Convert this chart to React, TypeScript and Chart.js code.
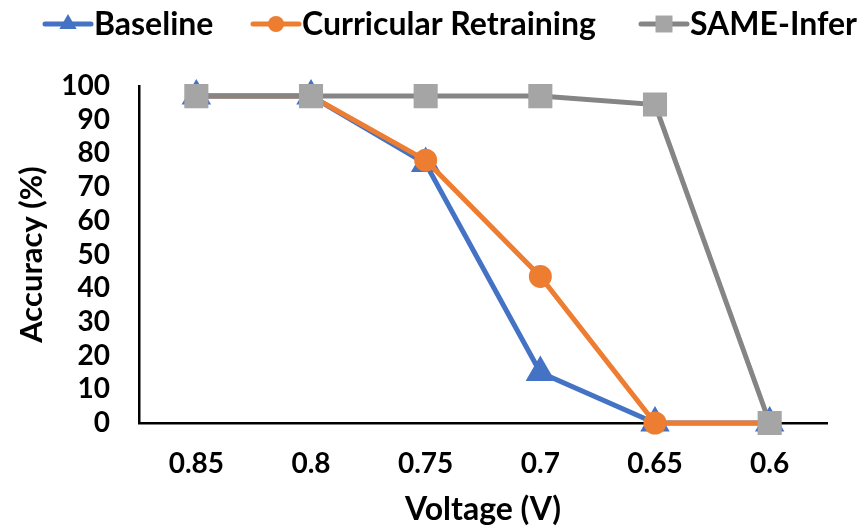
import React, { useEffect, useRef } from 'react';
import { Chart, registerables } from 'chart.js';

Chart.register(...registerables);

const categories = ['0.85', '0.8', '0.75', '0.7', '0.65', '0.6'];
const baseline = [97, 97, 77, 15, 0, 0];
const curricular = [97, 97, 78, 43.5, 0, 0];
const sameInfer = [97, 97, 97, 97, 94.5, 0];
const yTicks = [0, 10, 20, 30, 40, 50, 60, 70, 80, 90, 100];

const FONT = 'Lato, "Open Sans", sans-serif';
const W = 'bold';

type LegendItem = { label: string; line: string; fill: string; style: string; r: number; x: number };
const legendItems: LegendItem[] = [
  { label: 'Baseline', line: '#4472C4', fill: '#4472C4', style: 'triangle', r: 10, x: 43 },
  { label: 'Curricular Retraining', line: '#ED7D31', fill: '#ED7D31', style: 'circle', r: 8, x: 251 },
  { label: 'SAME-Infer', line: '#858585', fill: '#A5A5A5', style: 'rect', r: 12, x: 639 },
];

const legendPlugin = {
  id: 'excelLegend',
  afterDraw(chart: any) {
    const ctx = chart.ctx as CanvasRenderingContext2D;
    ctx.save();
    ctx.font = `${W} 32px ${FONT}`;
    ctx.textBaseline = 'middle';
    ctx.textAlign = 'left';
    const y = 24;
    const lineW = 50;
    for (const it of legendItems) {
      const x = it.x;
      ctx.strokeStyle = it.line;
      ctx.lineWidth = 5;
      ctx.lineCap = 'round';
      ctx.beginPath();
      ctx.moveTo(x + 2, y);
      ctx.lineTo(x + lineW - 2, y);
      ctx.stroke();
      const cx = x + lineW / 2;
      ctx.fillStyle = it.fill;
      ctx.beginPath();
      if (it.style === 'triangle') {
        ctx.moveTo(cx, y - it.r);
        ctx.lineTo(cx + 0.866 * it.r, y + 0.5 * it.r);
        ctx.lineTo(cx - 0.866 * it.r, y + 0.5 * it.r);
        ctx.closePath();
      } else if (it.style === 'circle') {
        ctx.arc(cx, y, it.r, 0, Math.PI * 2);
      } else {
        const s = it.r * Math.SQRT1_2;
        ctx.rect(cx - s, y - s, 2 * s, 2 * s);
      }
      ctx.fill();
      ctx.fillStyle = '#000';
      ctx.fillText(it.label, x + lineW + 1, y + 1);
    }
    ctx.restore();
  },
};

export default function App() {
  const ref = useRef<HTMLCanvasElement | null>(null);
  useEffect(() => {
    document.body.style.margin = '0';
    const canvas = ref.current!;
    const chart = new Chart(canvas, {
      type: 'line',
      data: {
        labels: categories,
        datasets: [
          {
            label: 'SAME-Infer',
            data: sameInfer,
            borderColor: '#858585',
            backgroundColor: '#A5A5A5',
            pointBackgroundColor: '#A5A5A5',
            pointBorderColor: '#A5A5A5',
            pointStyle: 'rect',
            pointRadius: 13.5,
            borderWidth: 5,
            clip: false,
          },
          {
            label: 'Curricular Retraining',
            data: curricular,
            borderColor: '#ED7D31',
            backgroundColor: '#ED7D31',
            pointBackgroundColor: '#ED7D31',
            pointBorderColor: '#ED7D31',
            pointStyle: 'circle',
            pointRadius: 9,
            borderWidth: 5,
            clip: false,
          },
          {
            label: 'Baseline',
            data: baseline,
            borderColor: '#4472C4',
            backgroundColor: '#4472C4',
            pointBackgroundColor: '#4472C4',
            pointBorderColor: '#4472C4',
            pointStyle: 'triangle',
            pointRadius: 12,
            borderWidth: 5,
            clip: false,
          },
        ],
      },
      options: {
        animation: false,
        responsive: false,
        maintainAspectRatio: false,
        layout: { padding: { top: 86, right: 36, left: 0, bottom: 0 } },
        plugins: {
          legend: { display: false },
          tooltip: { enabled: false },
        },
        scales: {
          x: {
            type: 'category',
            offset: true,
            grid: { display: false, drawTicks: false },
            border: { display: true, color: '#000', width: 2.5 },
            ticks: {
              color: '#000',
              font: { family: FONT, size: 28, weight: W },
              padding: 24,
              maxRotation: 0,
              autoSkip: false,
            },
            title: {
              display: true,
              text: 'Voltage (V)',
              color: '#000',
              font: { family: FONT, size: 32, weight: W },
              padding: { top: 0, bottom: 0 },
            },
            afterFit(scale: any) {
              scale.height = 106;
            },
          },
          y: {
            min: 0,
            max: 100,
            afterBuildTicks(scale: any) {
              scale.ticks = yTicks.map((v) => ({ value: v }));
            },
            grid: { display: false, drawTicks: false },
            border: { display: true, color: '#000', width: 2.5 },
            ticks: {
              color: '#000',
              font: { family: FONT, size: 28, weight: W },
              padding: 29,
              autoSkip: false,
            },
            title: {
              display: true,
              text: 'Accuracy (%)',
              color: '#000',
              font: { family: FONT, size: 31, weight: W },
              padding: { top: 13, bottom: 0 },
            },
            afterFit(scale: any) {
              scale.width = 139;
            },
          },
        },
      },
      plugins: [legendPlugin],
    } as any);
    return () => chart.destroy();
  }, []);
  return (
    <div style={{ position: 'fixed', left: 0, top: 0, width: 863, height: 529 }}>
      <canvas ref={ref} width={863} height={529} style={{ width: 863, height: 529 }} />
    </div>
  );
}
